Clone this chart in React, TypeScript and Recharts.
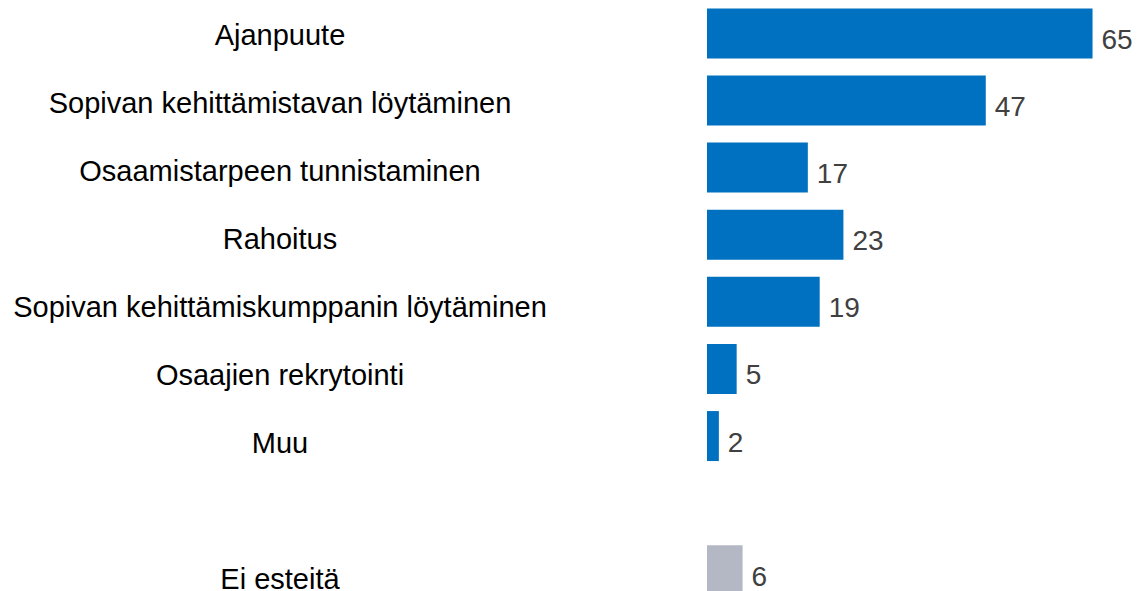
import React from "react";
import { BarChart, Bar, XAxis, YAxis, Cell, LabelList } from "recharts";

const categories = [
  "Ajanpuute",
  "Sopivan kehittämistavan löytäminen",
  "Osaamistarpeen tunnistaminen",
  "Rahoitus",
  "Sopivan kehittämiskumppanin löytäminen",
  "Osaajien rekrytointi",
  "Muu",
  "",
  "Ei esteitä",
];
const values: (number | null)[] = [65, 47, 17, 23, 19, 5, 2, null, 6];
const colors = ["#0070C0", "#0070C0", "#0070C0", "#0070C0", "#0070C0", "#0070C0", "#0070C0", "#0070C0", "#B4B8C4"];

const data = categories.map((c, i) => ({ name: c, value: values[i], color: colors[i] }));

const FONT = "'Liberation Sans', Arial, sans-serif";

const Tick = (props: any) => {
  const { y, payload, index } = props;
  return (
    <text x={280} y={y} dy={11 + (index || 0) * 1} textAnchor="middle" fill="#000000" fontSize={29} fontFamily={FONT}>
      {payload.value}
    </text>
  );
};

const ValueLabel = (props: any) => {
  const { x, y, width, height, value } = props;
  if (value === null || value === undefined) return null;
  return (
    <text x={x + width + 9} y={y + height / 2} dy={15.5} textAnchor="start" fill="#404040" fontSize={28} fontFamily={FONT}>
      {value}
    </text>
  );
};

export default function App() {
  return (
    <div style={{ position: "absolute", left: 0, top: 0, width: 1140, height: 591, overflow: "hidden", background: "#fff" }}>
      <BarChart
        width={1140}
        height={604}
        data={data}
        layout="vertical"
        margin={{ top: 0, right: 0, bottom: 0, left: 0 }}
        barCategoryGap="12.5%"
      >
        <XAxis type="number" domain={[0, 73]} hide />
        <YAxis type="category" dataKey="name" width={707} axisLine={false} tickLine={false} tick={<Tick />} interval={0} />
        <Bar dataKey="value" isAnimationActive={false}>
          {data.map((d, i) => (
            <Cell key={i} fill={d.color} />
          ))}
          <LabelList dataKey="value" content={<ValueLabel />} />
        </Bar>
      </BarChart>
    </div>
  );
}
